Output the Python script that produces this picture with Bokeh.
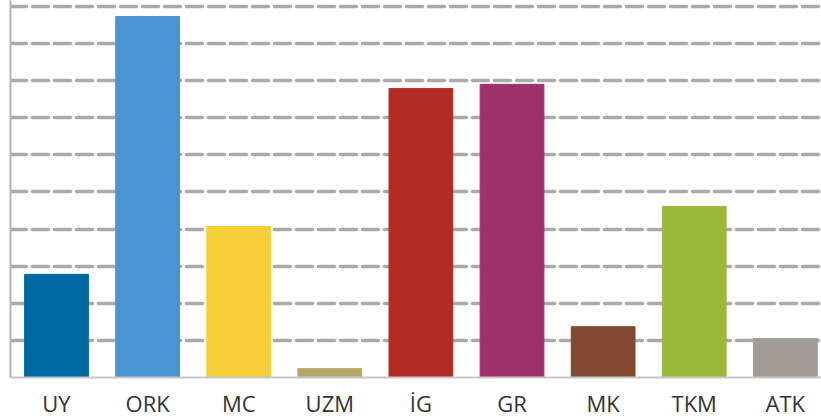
from bokeh.plotting import figure
from bokeh.models import Range1d, FixedTicker, ColumnDataSource
from bokeh.embed import file_html
from bokeh.resources import INLINE

categories = ["UY", "ORK", "MC", "UZM", "İG", "GR", "MK", "TKM", "ATK"]
values = [2.78, 9.73, 4.07, 0.24, 7.79, 7.90, 1.37, 4.61, 1.05]
colors = ["#0068a0", "#4a94d2", "#f8cf38", "#b5a96a", "#b32c24",
          "#9e316c", "#844a31", "#9db93a", "#a39b96"]
grid_ticks = [0, 1, 2, 3, 4, 5, 6, 7, 8, 9, 10]

xs = list(range(len(categories)))
src = ColumnDataSource(dict(x=xs, top=values, color=colors, name=categories))

p = figure(width=821, height=420, output_backend="svg", toolbar_location=None,
           x_range=Range1d(-0.505, 8.397), y_range=Range1d(0, 10.16),
           min_border_left=10, min_border_right=0, min_border_top=0,
           min_border_bottom=43)
p.outline_line_color = None
p.background_fill_color = "white"

p.vbar(x="x", top="top", bottom=0, width=0.70, color="color", source=src)

# y axis: line only
p.yaxis.ticker = FixedTicker(ticks=grid_ticks)
p.yaxis.major_label_text_font_size = "0px"
p.yaxis.major_label_text_color = None
p.yaxis.major_label_standoff = 0
p.yaxis.major_tick_out = 0
p.yaxis.major_tick_in = 0
p.yaxis.major_tick_line_color = None
p.yaxis.minor_tick_line_color = None
p.yaxis.axis_line_color = "#b3b3b3"
p.yaxis.axis_line_width = 2

p.ygrid.ticker = FixedTicker(ticks=grid_ticks)
p.ygrid.grid_line_color = "#aaaaaa"
p.ygrid.grid_line_width = 3.5
p.ygrid.grid_line_dash = "16 6"
p.ygrid.grid_line_cap = "round"
p.xgrid.grid_line_color = None

p.xaxis.ticker = FixedTicker(ticks=xs)
p.xaxis.major_label_overrides = {i: c for i, c in enumerate(categories)}
p.xaxis.major_tick_out = 0
p.xaxis.major_tick_in = 0
p.xaxis.major_tick_line_color = None
p.xaxis.minor_tick_line_color = None
p.xaxis.axis_line_color = "#c8c8c8"
p.xaxis.axis_line_width = 2
p.xaxis.major_label_text_font = "Open Sans"
p.xaxis.major_label_text_font_size = "22px"
p.xaxis.major_label_text_color = "#333333"
p.xaxis.major_label_standoff = 10

open("out.html", "w").write(file_html(p, INLINE))
